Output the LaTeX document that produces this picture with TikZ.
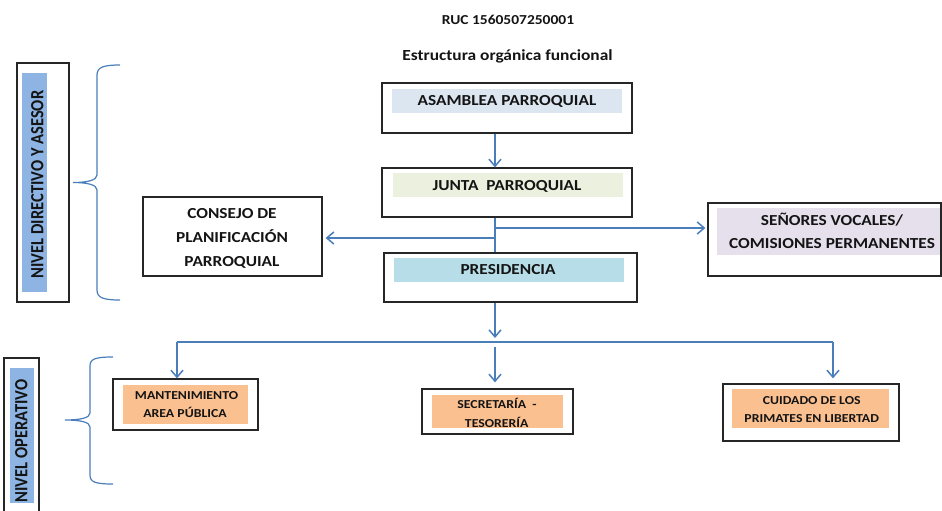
\documentclass[tikz,border=0pt]{standalone}
\usepackage{fontspec}
\setmainfont{Carlito}[FakeStretch=1.13]
\newfontfamily\vfont{Carlito}
\usetikzlibrary{arrows.meta,calc}
\definecolor{ln}{RGB}{74,126,187}
\definecolor{fAsam}{RGB}{220,230,241}
\definecolor{fJunta}{RGB}{235,241,222}
\definecolor{fPres}{RGB}{183,222,232}
\definecolor{fSen}{RGB}{229,224,236}
\definecolor{fOr}{RGB}{250,192,144}
\definecolor{fLab}{RGB}{141,180,226}
\definecolor{txc}{RGB}{20,20,20}
\begin{document}
\begin{tikzpicture}[x=1pt,y=-1pt,
  boxst/.style={draw=black!85, line width=1.3pt, inner sep=0pt, fill=none},
  txt/.style={anchor=base, inner sep=0pt, text=txc, font=\bfseries\fontsize{15.3}{18}\selectfont},
  stxt/.style={anchor=base, inner sep=0pt, text=txc, font=\bfseries\fontsize{12.2}{14}\selectfont},
  vtxt/.style={anchor=base, inner sep=0pt, rotate=90, text=txc, font=\vfont\bfseries\fontsize{16.5}{18}\selectfont},
  conn/.style={draw=ln, line width=1.5pt},
  arr/.style={conn, -{Straight Barb[length=7pt,width=12pt,line width=1.5pt]}},
  brace/.style={draw=ln, line width=1.2pt}]
\useasboundingbox (0,0) rectangle (942,511);
\fill[white] (0,0) rectangle (942,511);

% titles
\node[txt, font=\bfseries\fontsize{13.7}{16}\selectfont] (ruc) at (508,25) {RUC 1560507250001};
\node[txt, font=\bfseries\fontsize{15.4}{18}\selectfont] (tit) at (507.5,61) {Estructura orgánica funcional};

% fills
\fill[fAsam] (392,89) rectangle (622,113);
\fill[fJunta] (393,173) rectangle (623,197);
\fill[fPres] (394,258) rectangle (624,282);
\fill[fSen] (717,208) rectangle (941,255);
\fill[fOr] (123,385) rectangle (248,424);
\fill[fOr] (432,395) rectangle (563,428);
\fill[fOr] (732,389) rectangle (889,428);
\fill[fLab] (22,73) rectangle (47,292);
\fill[fLab] (10,368) rectangle (34,503);

% boxes
\node[boxst, minimum width=250pt, minimum height=50pt] (asam) at (507,108) {};
\node[boxst, minimum width=250pt, minimum height=49pt] (junta) at (507,192.5) {};
\node[boxst, minimum width=253pt, minimum height=49pt] (pres) at (510.5,277.5) {};
\node[boxst, minimum width=179pt, minimum height=79pt] (cons) at (232.5,236.5) {};
\node[boxst, minimum width=233pt, minimum height=73pt] (sen) at (824.5,239.5) {};
\node[boxst, minimum width=145pt, minimum height=51pt] (mant) at (185.5,404.5) {};
\node[boxst, minimum width=151pt, minimum height=45pt] (sec) at (497.5,411.5) {};
\node[boxst, minimum width=176pt, minimum height=57pt] (cuid) at (811,412.5) {};
\node[boxst, minimum width=52pt, minimum height=239pt] (lab1) at (43,182.5) {};
\node[boxst, minimum width=35pt, minimum height=162pt] (lab2) at (21.5,439) {};

% texts
\node[txt] (tAsam) at (507,105.5) {ASAMBLEA PARROQUIAL};
\node[txt] (tJunta) at (507,190) {JUNTA\ \ PARROQUIAL};
\node[txt] (tPres) at (508,274) {PRESIDENCIA};
\node[txt] (tCons1) at (232,218) {CONSEJO DE};
\node[txt] (tCons2) at (232,242) {PLANIFICACIÓN};
\node[txt] (tCons3) at (232,266) {PARROQUIAL};
\node[txt] (tSen1) at (832,225) {SEÑORES VOCALES/};
\node[txt] (tSen2) at (832,248) {COMISIONES PERMANENTES};
\node[stxt] (tMan1) at (186.5,399) {MANTENIMIENTO};
\node[stxt] (tMan2) at (185,417) {AREA PÚBLICA};
\node[stxt] (tSec1) at (497,408) {SECRETARÍA\ \ -};
\node[stxt] (tSec2) at (496.7,427) {TESORERÍA};
\node[stxt] (tCui1) at (811.7,404) {CUIDADO DE LOS};
\node[stxt] (tCui2) at (811.7,422.5) {PRIMATES EN LIBERTAD};
\node[vtxt] (tLab1) at (43.3,184.5) {\scalebox{1}[1.13]{NIVEL DIRECTIVO Y ASESOR}};
\node[vtxt] (tLab2) at (27.3,441) {\scalebox{1}[1.13]{NIVEL OPERATIVO}};

% connectors
\coordinate (cx) at (495,0);
\coordinate (jr) at (495,228);
\coordinate (jl) at (495,238);
\coordinate (pb) at (495,338);
\coordinate (hL) at (177,342);
\coordinate (hR) at (833,342);
\coordinate (hM) at (495,347);
\draw[arr] (asam.south -| cx) -- (junta.north -| cx);
\draw[conn] (junta.south -| cx) -- (pres.north -| cx);
\draw[arr] (jr) -- ($(sen.west |- jr)+(-2,0)$);
\draw[arr] (jl) -- ($(cons.east |- jl)+(3,0)$);
\draw[arr] (pres.south -| cx) -- (pb);
\draw[conn] (hL) -- (hR);
\draw[arr] (hL) -- (mant.north -| hL);
\draw[arr] (hM) -- ($(sec.north -| hM)+(0,-6)$);
\draw[arr] (hR) -- ($(cuid.north -| hR)+(0,-5)$);

% braces
\draw[brace] (120,65) .. controls (104,65) and (97,67) .. (97,75) -- (97,175)
  .. controls (97,180) and (88,182.5) .. (73,182.5)
  .. controls (88,182.5) and (97,185) .. (97,190) -- (97,290)
  .. controls (97,298) and (104,300) .. (120,300);
\draw[brace] (113,357) .. controls (95,357) and (90,359) .. (90,366) -- (90,413)
  .. controls (90,418) and (80,420) .. (65,420)
  .. controls (80,420) and (90,422) .. (90,427) -- (90,475)
  .. controls (90,482) and (95,484) .. (113,484);
\end{tikzpicture}
\end{document}
